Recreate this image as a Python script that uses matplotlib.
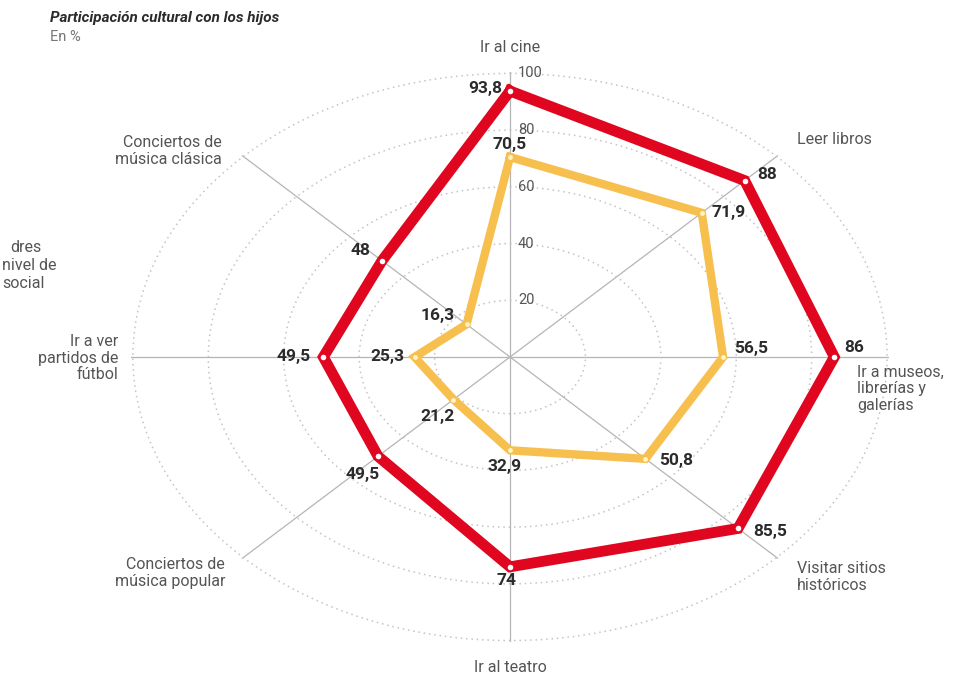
import numpy as np
import matplotlib
matplotlib.use('Agg')
from matplotlib import pyplot as plt

plt.rcParams['font.family'] = ['Roboto', 'DejaVu Sans']

categorias = ['Ir al cine', 'Leer libros', 'Ir a museos,\nlibrerías y\ngalerías',
              'Visitar sitios\nhistóricos', 'Ir al teatro', 'Conciertos de\nmúsica popular',
              'Ir a ver\npartidos de\nfútbol', 'Conciertos de\nmúsica clásica']
serie_roja = [93.8, 88, 86, 85.5, 74, 49.5, 49.5, 48]
serie_amarilla = [70.5, 71.9, 56.5, 50.8, 32.9, 21.2, 25.3, 16.3]
etiquetas_roja = ['93,8', '88', '86', '85,5', '74', '49,5', '49,5', '48']
etiquetas_amarilla = ['70,5', '71,9', '56,5', '50,8', '32,9', '21,2', '25,3', '16,3']
anillos = [20, 40, 60, 80, 100]

rojo = '#E0061F'
amarillo = '#F6BF4E'
gris_txt = '#555555'
oscuro = '#2b2b2b'

angulos = np.linspace(0, 2 * np.pi, len(categorias), endpoint=False)
ang_cerrado = np.append(angulos, angulos[0])

fig = plt.figure(figsize=(9.63, 6.81), dpi=100)
ax = fig.add_axes([131 / 963, 39 / 681, 758 / 963, 570 / 681], projection='polar')
ax.set_aspect('auto')
ax.set_theta_zero_location('N')
ax.set_theta_direction(-1)
ax.set_ylim(0, 100.5)
ax.spines['polar'].set_visible(False)
ax.set_xticks(angulos)
ax.set_xticklabels([])
ax.set_yticks(anillos)
ax.set_yticklabels([])
ax.xaxis.grid(True, color='#b5b5b5', lw=0.9, ls='-')
ax.yaxis.grid(True, color='#c4c4c4', lw=1.1, ls=(0, (1, 2.5)))
ax.set_facecolor('white')

# series
ax.plot(ang_cerrado, np.append(serie_amarilla, serie_amarilla[0]), color=amarillo,
        lw=6, solid_joinstyle='miter', zorder=3)
ax.plot(angulos, serie_amarilla, 'o', ms=3.5, mfc='#fff3c8', mew=0, zorder=4)
ax.plot(ang_cerrado, np.append(serie_roja, serie_roja[0]), color=rojo,
        lw=7.8, solid_joinstyle='miter', zorder=5)
ax.plot(angulos, serie_roja, 'o', ms=4, mfc='white', mew=0, zorder=6)

# valores (desplazamientos en pixeles)
off_roja = [(-8, 2, 'right'), (13, 6, 'left'), (10, 10, 'left'), (15, -3, 'left'),
            (-4, -14, 'center'), (-15, -18, 'center'), (-13, 0, 'right'), (-12, 10, 'right')]
off_amarilla = [(0, 13, 'center'), (10, 0, 'left'), (11, 9, 'left'), (14, -2, 'left'),
                (-5, -16, 'center'), (-16, -17, 'center'), (-10, 0, 'right'), (-12, 9, 'right')]
for a, v, t, (dx, dy, ha) in zip(angulos, serie_roja, etiquetas_roja, off_roja):
    ax.annotate(t, (a, v), xytext=(dx, dy), textcoords='offset pixels', ha=ha, va='center',
                fontsize=12.5, fontweight='bold', color=oscuro, zorder=7)
for a, v, t, (dx, dy, ha) in zip(angulos, serie_amarilla, etiquetas_amarilla, off_amarilla):
    ax.annotate(t, (a, v), xytext=(dx, dy), textcoords='offset pixels', ha=ha, va='center',
                fontsize=12.5, fontweight='bold', color=oscuro, zorder=7)

# etiquetas de anillos
for r in anillos:
    ax.annotate(str(r), (0, r), xytext=(8, 0), textcoords='offset pixels', ha='left',
                va='center', fontsize=10.5, color=gris_txt, zorder=2)

# etiquetas de categorias (posicion en pixeles de la figura)
pos_cat = [(510, 47, 'center'), (797, 140, 'left'), (857, 389, 'left'), (797, 577, 'left'),
           (510, 667, 'center'), (225, 573, 'right'), (118, 358, 'right'), (222, 151, 'right')]
for txt, (x, y, ha) in zip(categorias, pos_cat):
    fig.text(x / 963, 1 - y / 681, txt, ha=ha, va='center', ma=ha, fontsize=11.5,
             color=gris_txt, linespacing=1.1)

# titulo
fig.text(50 / 963, 1 - 18 / 681, 'Participación cultural con los hijos', fontsize=11,
         fontweight='bold', fontstyle='italic', color=oscuro, va='center')
fig.text(50 / 963, 1 - 37 / 681, 'En %', fontsize=10.5, color='#777777', va='center')

# leyenda recortada en el borde izquierdo
fig.text(10 / 963, 1 - 248 / 681, 'dres', fontsize=11.5, color=gris_txt, va='center')
fig.text(2 / 963, 1 - 266 / 681, 'nivel de', fontsize=11.5, color=gris_txt, va='center')
fig.text(2 / 963, 1 - 284 / 681, 'social', fontsize=11.5, color=gris_txt, va='center')

fig.savefig('out.png', dpi=100, facecolor='white')
